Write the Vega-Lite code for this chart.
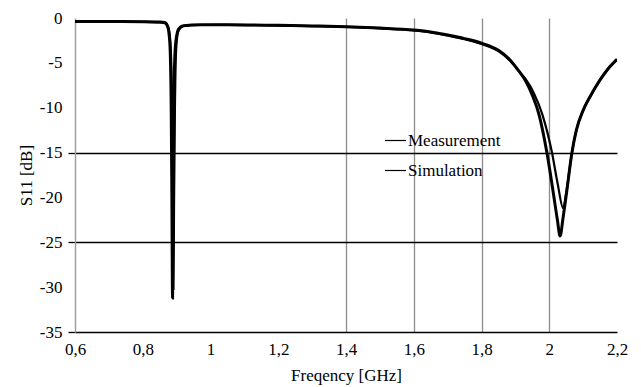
{
  "$schema": "https://vega.github.io/schema/vega-lite/v6.json",
  "width": 542,
  "height": 314,
  "autosize": {"type": "none"},
  "padding": {"left": 75, "top": 18, "right": 24, "bottom": 55},
  "background": "white",
  "config": {
    "view": {"stroke": null},
    "font": "Liberation Serif"
  },
  "data": {
    "values": [
      {"f": 0.60, "s": -0.40, "series": "Measurement"},
      {"f": 0.70, "s": -0.40, "series": "Measurement"},
      {"f": 0.80, "s": -0.42, "series": "Measurement"},
      {"f": 0.85, "s": -0.45, "series": "Measurement"},
      {"f": 0.865, "s": -0.5, "series": "Measurement"},
      {"f": 0.874, "s": -1.0, "series": "Measurement"},
      {"f": 0.88, "s": -2.8, "series": "Measurement"},
      {"f": 0.884, "s": -10, "series": "Measurement"},
      {"f": 0.886, "s": -20, "series": "Measurement"},
      {"f": 0.888, "s": -31.2, "series": "Measurement"},
      {"f": 0.890, "s": -20, "series": "Measurement"},
      {"f": 0.892, "s": -10, "series": "Measurement"},
      {"f": 0.895, "s": -4.0, "series": "Measurement"},
      {"f": 0.90, "s": -2.0, "series": "Measurement"},
      {"f": 0.905, "s": -1.3, "series": "Measurement"},
      {"f": 0.92, "s": -0.85, "series": "Measurement"},
      {"f": 0.97, "s": -0.75, "series": "Measurement"},
      {"f": 1.05, "s": -0.75, "series": "Measurement"},
      {"f": 1.20, "s": -0.82, "series": "Measurement"},
      {"f": 1.30, "s": -0.88, "series": "Measurement"},
      {"f": 1.40, "s": -0.97, "series": "Measurement"},
      {"f": 1.50, "s": -1.12, "series": "Measurement"},
      {"f": 1.60, "s": -1.34, "series": "Measurement"},
      {"f": 1.65, "s": -1.55, "series": "Measurement"},
      {"f": 1.70, "s": -1.9, "series": "Measurement"},
      {"f": 1.75, "s": -2.3, "series": "Measurement"},
      {"f": 1.80, "s": -2.8, "series": "Measurement"},
      {"f": 1.85, "s": -3.6, "series": "Measurement"},
      {"f": 1.885, "s": -4.7, "series": "Measurement"},
      {"f": 1.91, "s": -5.9, "series": "Measurement"},
      {"f": 1.93, "s": -7.0, "series": "Measurement"},
      {"f": 1.95, "s": -8.6, "series": "Measurement"},
      {"f": 1.97, "s": -10.8, "series": "Measurement"},
      {"f": 1.993, "s": -15, "series": "Measurement"},
      {"f": 2.01, "s": -19, "series": "Measurement"},
      {"f": 2.024, "s": -22.5, "series": "Measurement"},
      {"f": 2.032, "s": -24.3, "series": "Measurement"},
      {"f": 2.041, "s": -22.2, "series": "Measurement"},
      {"f": 2.05, "s": -19.8, "series": "Measurement"},
      {"f": 2.067, "s": -15, "series": "Measurement"},
      {"f": 2.08, "s": -12.5, "series": "Measurement"},
      {"f": 2.10, "s": -10.3, "series": "Measurement"},
      {"f": 2.12, "s": -8.8, "series": "Measurement"},
      {"f": 2.15, "s": -6.9, "series": "Measurement"},
      {"f": 2.175, "s": -5.6, "series": "Measurement"},
      {"f": 2.20, "s": -4.6, "series": "Measurement"},

      {"f": 0.60, "s": -0.42, "series": "Simulation"},
      {"f": 0.70, "s": -0.42, "series": "Simulation"},
      {"f": 0.80, "s": -0.44, "series": "Simulation"},
      {"f": 0.85, "s": -0.5, "series": "Simulation"},
      {"f": 0.867, "s": -0.6, "series": "Simulation"},
      {"f": 0.876, "s": -1.1, "series": "Simulation"},
      {"f": 0.882, "s": -3.0, "series": "Simulation"},
      {"f": 0.887, "s": -11, "series": "Simulation"},
      {"f": 0.889, "s": -20, "series": "Simulation"},
      {"f": 0.8905, "s": -30.2, "series": "Simulation"},
      {"f": 0.8925, "s": -20, "series": "Simulation"},
      {"f": 0.895, "s": -10, "series": "Simulation"},
      {"f": 0.898, "s": -4.0, "series": "Simulation"},
      {"f": 0.902, "s": -2.0, "series": "Simulation"},
      {"f": 0.907, "s": -1.3, "series": "Simulation"},
      {"f": 0.92, "s": -0.9, "series": "Simulation"},
      {"f": 0.97, "s": -0.78, "series": "Simulation"},
      {"f": 1.05, "s": -0.76, "series": "Simulation"},
      {"f": 1.20, "s": -0.84, "series": "Simulation"},
      {"f": 1.30, "s": -0.9, "series": "Simulation"},
      {"f": 1.40, "s": -1.0, "series": "Simulation"},
      {"f": 1.50, "s": -1.15, "series": "Simulation"},
      {"f": 1.60, "s": -1.38, "series": "Simulation"},
      {"f": 1.65, "s": -1.6, "series": "Simulation"},
      {"f": 1.70, "s": -1.95, "series": "Simulation"},
      {"f": 1.75, "s": -2.35, "series": "Simulation"},
      {"f": 1.80, "s": -2.9, "series": "Simulation"},
      {"f": 1.85, "s": -3.7, "series": "Simulation"},
      {"f": 1.885, "s": -4.8, "series": "Simulation"},
      {"f": 1.91, "s": -5.9, "series": "Simulation"},
      {"f": 1.93, "s": -6.8, "series": "Simulation"},
      {"f": 1.955, "s": -8.4, "series": "Simulation"},
      {"f": 1.98, "s": -10.8, "series": "Simulation"},
      {"f": 2.008, "s": -15, "series": "Simulation"},
      {"f": 2.025, "s": -18.5, "series": "Simulation"},
      {"f": 2.041, "s": -21.2, "series": "Simulation"},
      {"f": 2.05, "s": -19.5, "series": "Simulation"},
      {"f": 2.067, "s": -15, "series": "Simulation"},
      {"f": 2.08, "s": -12.5, "series": "Simulation"},
      {"f": 2.10, "s": -10.3, "series": "Simulation"},
      {"f": 2.12, "s": -8.8, "series": "Simulation"},
      {"f": 2.15, "s": -6.9, "series": "Simulation"},
      {"f": 2.175, "s": -5.6, "series": "Simulation"},
      {"f": 2.20, "s": -4.6, "series": "Simulation"}
    ]
  },
  "encoding": {
    "x": {
      "field": "f",
      "type": "quantitative",
      "scale": {"domain": [0.6, 2.2], "nice": false, "zero": false},
      "axis": {
        "title": "Freqency [GHz]",
        "values": [0.6, 0.8, 1, 1.2, 1.4, 1.6, 1.8, 2, 2.2],
        "labelExpr": "replace(format(datum.value, '~g'), '.', ',')",
        "labelFont": "Liberation Serif",
        "labelFontSize": 17,
        "labelColor": "black",
        "labelPadding": 9,
        "labelFlush": false,
        "ticks": false,
        "domainColor": "black",
        "domainWidth": 1.5,
        "grid": true,
        "gridColor": {
          "condition": {"test": "datum.value >= 1.3 && datum.value <= 2.1", "value": "#8c8c8c"},
          "value": "transparent"
        },
        "gridWidth": 1.3,
        "titleFont": "Liberation Serif",
        "titleFontSize": 17,
        "titleFontWeight": "normal",
        "titleColor": "black",
        "titlePadding": 10
      }
    },
    "y": {
      "field": "s",
      "type": "quantitative",
      "scale": {"domain": [-35, 0], "nice": false},
      "axis": {
        "title": "S11 [dB]",
        "values": [0, -5, -10, -15, -20, -25, -30, -35],
        "labelExpr": "replace(format(datum.value, 'd'), '−', '-')",
        "labelFont": "Liberation Serif",
        "labelFontSize": 17,
        "labelColor": "black",
        "labelPadding": 6,
        "labelFlush": false,
        "ticks": true,
        "tickSize": 7,
        "tickWidth": 1.3,
        "tickColor": {
          "condition": {"test": "datum.value == -15 || datum.value == -25 || datum.value == -35", "value": "black"},
          "value": "transparent"
        },
        "domainColor": "#a0a0a0",
        "domainWidth": 1.5,
        "grid": true,
        "gridColor": {
          "condition": {"test": "datum.value == -15 || datum.value == -25", "value": "black"},
          "value": "transparent"
        },
        "gridWidth": 1.3,
        "titleFont": "Liberation Serif",
        "titleFontSize": 17,
        "titleFontWeight": "normal",
        "titleColor": "black",
        "titlePadding": 4
      }
    },
    "color": {
      "field": "series",
      "type": "nominal",
      "scale": {"domain": ["Measurement", "Simulation"], "range": ["black", "black"]},
      "legend": {
        "title": null,
        "orient": "none",
        "legendX": 309,
        "legendY": 111,
        "symbolType": "stroke",
        "symbolSize": 440,
        "symbolStrokeWidth": 1.2,
        "labelFont": "Liberation Serif",
        "labelFontSize": 17,
        "labelColor": "black",
        "labelOffset": 1,
        "rowPadding": 10
      }
    }
  },
  "layer": [
    {
      "transform": [{"filter": "datum.series == 'Measurement'"}],
      "mark": {"type": "line", "interpolate": "monotone", "clip": true, "strokeWidth": 3}
    },
    {
      "transform": [{"filter": "datum.series == 'Simulation'"}],
      "mark": {"type": "line", "interpolate": "monotone", "clip": true, "strokeWidth": 2.2}
    }
  ]
}
